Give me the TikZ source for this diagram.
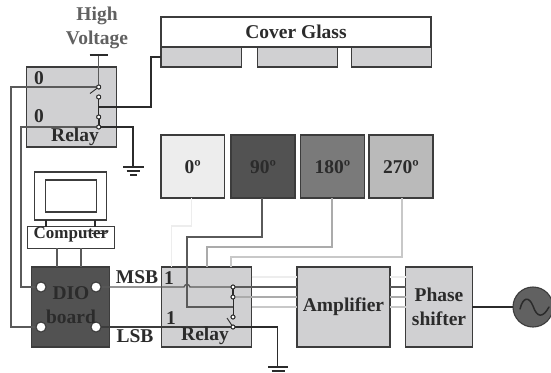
\documentclass[tikz,border=0pt]{standalone}
\usepackage{fontspec}
\setmainfont{Liberation Serif}
\definecolor{ink}{HTML}{2B2B2B}
\definecolor{edge}{HTML}{3C3C3C}
\definecolor{boxgrey}{HTML}{D0D0D2}
\definecolor{wdark}{HTML}{5A5A5A}
\definecolor{wmid}{HTML}{ABABAB}
\definecolor{wlight}{HTML}{C8C8C8}
\definecolor{wpale}{HTML}{EDEDED}
\tikzset{
  box/.style={draw=edge,line width=1.1pt,inner sep=0pt,outer sep=0pt,rectangle},
  grey/.style={box,fill=boxgrey},
  lbl/.style={font=\bfseries\fontsize{19.5}{22}\selectfont,text=ink,inner sep=0pt,align=center},
  contact/.style={circle,draw=ink,fill=white,line width=0.9pt,minimum size=4pt,inner sep=0pt,outer sep=0pt},
  port/.style={circle,draw=edge,fill=white,line width=1pt,minimum size=10pt,inner sep=0pt,outer sep=0pt},
  wire/.style={draw=ink,line width=1.1pt},
  gwire/.style={draw=wdark,line width=1.3pt},
  mwire/.style={draw=wmid,line width=1.3pt},
  lwire/.style={draw=wlight,line width=1.3pt},
  pwire/.style={draw=wpale,line width=1.3pt},
  bar/.style={draw=ink,line width=1.1pt}
}
\begin{document}
\begin{tikzpicture}[x=1pt,y=-1pt]
\useasboundingbox (0,0) rectangle (551,372);
% boxes
\node[box,fill=white,minimum width=270pt,minimum height=30pt] (cover) at (296,32) {};
\node[grey,minimum width=80.5pt,minimum height=20pt] (seg1) at (201.2,57) {};
\node[grey,minimum width=80.5pt,minimum height=20pt] (seg2) at (297.3,57) {};
\node[grey,minimum width=80pt,minimum height=20pt] (seg3) at (391.5,57) {};
\node[grey,minimum width=90pt,minimum height=80pt] (relayA) at (71.8,107) {};
\node[box,fill=white,minimum width=71.5pt,minimum height=48pt] (monitor) at (70.5,196) {};
\node[box,fill=white,minimum width=50.5pt,minimum height=32pt] (screen) at (70.8,196) {};
\node[box,fill=white,minimum width=87.5pt,minimum height=21.5pt] (computer) at (70.8,237.5) {};
\node[box,fill=black!68,minimum width=78pt,minimum height=80pt] (dio) at (70.2,307) {};
\node[box,fill=black!7,minimum width=63.5pt,minimum height=63pt] (p0) at (192.7,166.5) {};
\node[box,fill=black!68,minimum width=64pt,minimum height=63pt] (p90) at (263,166.5) {};
\node[box,fill=black!52,minimum width=63.5pt,minimum height=63pt] (p180) at (332.5,166.5) {};
\node[box,fill=black!27,minimum width=64pt,minimum height=63pt] (p270) at (401,166.5) {};
\node[grey,minimum width=90.5pt,minimum height=80pt] (relayB) at (206.3,307) {};
\node[grey,minimum width=93pt,minimum height=80pt] (amp) at (343.5,307) {};
\node[grey,minimum width=66.5pt,minimum height=80pt] (phase) at (439,307) {};
\node[circle,draw=edge,fill=black!62,line width=1.1pt,minimum size=40pt,inner sep=0pt,outer sep=0pt] (src) at (533,307) {};
% named points
\coordinate (hvT) at (98.7,55);
\coordinate (gA) at (133,167);
\coordinate (gB) at (277.5,367);
\coordinate (xA) at (11,327);
\coordinate (xB) at (21,287);
\coordinate (h1) at (184,287);
\coordinate (h2) at (190,287);
% contacts
\node[contact] (a1) at (98.7,87) {};
\node[contact] (a2) at (98.7,97) {};
\node[contact] (a3) at (98.7,117) {};
\node[contact] (a4) at (98.7,127) {};
\node[contact] (b1) at (233,287) {};
\node[contact] (b2) at (233,297) {};
\node[contact] (b3) at (233,317) {};
\node[contact] (b4) at (233,327) {};
\node[port] (d1) at (41,287) {};
\node[port] (d2) at (96,287) {};
\node[port] (d3) at (41,327) {};
\node[port] (d4) at (96,327) {};
% monitor details
\draw[wire] (46,220) -- (46,227) (95,220) -- (95,227);
\draw[gwire] (57,248) -- (57,267) (81,248) -- (81,267);
% relay A wiring
\draw[gwire] (hvT) -- (a1);
\draw[wire] (89.5,55) -- (107.5,55);
\draw[wire,line width=.9pt] (a1) -- (90,93.5);
\draw[wire] (a2) -- (a3);
\draw[wire,line width=1.8pt] (a3) -- (a4);
\draw[wire] (98.7,107) -| (151,57) -- (seg1.west);
\draw[wire] (a4) -| (gA);
\draw[bar] (123,167) -- (143.5,167);
\draw[bar] (126.5,171) -- (139.5,171);
\draw[bar,line width=1.4pt] (130,175) -- (137,175);
\draw[gwire] (a1) -- (47,87) -- (11,87) -- (xA) -- (d3);
\draw[gwire] (a4) -- (47,127) -- (21,127) -- (xB) -- (d1);
% phase lines
\draw[pwire] (191.5,198) -- (191.5,226) -- (171.5,226) -- (171.5,267);
\draw[mwire] (332,198) -- (332,247) -- (207,247) -- (207,267);
\draw[lwire] (402,198) -- (402,257) -- (231,257) -- (231,267);
\draw[gwire] (262,198) -- (262,237) -- (187,237) -- (187,307) -- (233,307);
\draw[wire,line width=.9pt] (b2) -- (b3);
\draw[wire,line width=1.8pt] (b1) -- (b2);
\draw[wire,line width=.9pt] (b4) -- (227,318);
% outputs
\draw[gwire] (d2) -- (h1) .. controls (185,283.5) and (189,283.5) .. (h2) -- (b1);
\draw[gwire] (b1) -- (amp.west |- b1);
\draw[wire,draw=edge] (d4) -- (b4);
\draw[wire] (b4) -| (gB);
\draw[bar] (268,367) -- (288,367);
\draw[bar] (271.5,371) -- (284.5,371);
\draw[pwire] (relayB.east |- 0,277) -- (amp.west |- 0,277);
\draw[mwire] (b2) -- (amp.west |- b2);
\draw[lwire] (relayB.east |- 0,307) -- (amp.west |- 0,307);
\draw[pwire] (amp.east |- 0,277) -- (phase.west |- 0,277);
\draw[gwire] (amp.east |- 0,287) -- (phase.west |- 0,287);
\draw[mwire] (amp.east |- 0,297) -- (phase.west |- 0,297);
\draw[lwire] (amp.east |- 0,307) -- (phase.west |- 0,307);
\draw[wire] (phase.east) -- (src.west);
% redraw contacts above wires
\foreach \c in {a1,a2,a3,a4,b1,b2,b3,b4}{\node[contact] at (\c) {};}
\foreach \c in {d1,d2,d3,d4}{\node[port] at (\c) {};}
% sine
\draw[ink,line width=1.5pt,line cap=round] (520,309) .. controls (523,297) and (529,296) .. (533,306) .. controls (537,318) and (543,318) .. (549,307);
% labels
\node[lbl,text=black!62] (tHigh) at (97,16) {High};
\node[lbl,text=black!62] (tVolt) at (97,40) {Voltage};
\node[lbl] (tCover) at (296,32) {Cover Glass};
\node[lbl] (t0a) at (39,78) {0};
\node[lbl] (t0b) at (39,116) {0};
\node[lbl] (tRelayA) at (75,137) {Relay};
\node[lbl,font=\bfseries\fontsize{17}{20}\selectfont] (tComp) at (71,235) {Computer};
\node[lbl] (tDio) at (71,293) {DIO};
\node[lbl] (tBoard) at (71,317) {board};
\node[lbl] (tMsb) at (137,277) {MSB};
\node[lbl] (tLsb) at (135,336) {LSB};
\node[lbl] (t1a) at (169,278) {1};
\node[lbl] (t1b) at (171,318) {1};
\node[lbl] (tRelayB) at (205,336) {Relay};
\node[lbl] (t0) at (192.7,167) {0º};
\node[lbl] (t90) at (263,167) {90º};
\node[lbl] (t180) at (332.5,167) {180º};
\node[lbl] (t270) at (401,167) {270º};
\node[lbl] (tAmp) at (343.5,307) {Amplifier};
\node[lbl,text width=66pt] (tPhase) at (439,307) {Phase\\[2pt]shifter};
% stray keyboard mark
\draw[ink,line width=.9pt] (83,231) -- (108,231) .. controls (108,233) and (106,233.5) .. (103,233.5) -- (92,233.5);
\end{tikzpicture}
\end{document}
